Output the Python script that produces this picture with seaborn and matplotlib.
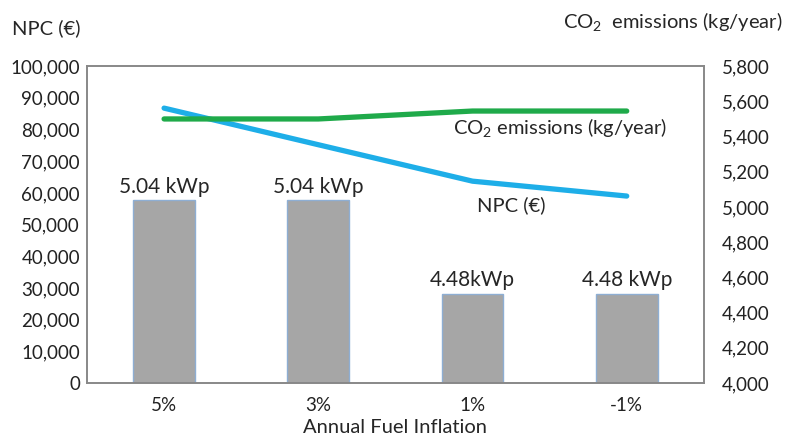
import numpy as np
import pandas as pd
import matplotlib
matplotlib.use("Agg")
import matplotlib.pyplot as plt
import seaborn as sns
from matplotlib.ticker import FuncFormatter

# values
inflation = ["5%", "3%", "1%", "-1%"]
pv_size = [57700, 57700, 28200, 28200]          # bar heights on NPC axis
pv_labels = ["5.04 kWp", "5.04 kWp", "4.48kWp", "4.48 kWp"]
npc = [86750, 75200, 63700, 59000]
co2 = [5500, 5500, 5545, 5545]

df = pd.DataFrame({"inflation": inflation, "bar": pv_size, "npc": npc, "co2": co2})

sns.set_style("white")
plt.rcParams["font.family"] = ["Lato", "DejaVu Sans"]
plt.rcParams["mathtext.fontset"] = "custom"
plt.rcParams["mathtext.rm"] = "Lato"

fig = plt.figure(figsize=(7.98, 4.41), dpi=100)
ax = fig.add_axes([0.109, 0.1315, 0.773, 0.7185])

sns.barplot(data=df, x="inflation", y="bar", ax=ax, color="#a6a6a6",
            width=0.4, edgecolor="#8eaed3", linewidth=1, saturation=1)
sns.lineplot(data=df, x="inflation", y="npc", ax=ax, color="#1eaee8",
             linewidth=3.8, sort=False)

ax2 = ax.twinx()
sns.lineplot(data=df, x="inflation", y="co2", ax=ax2, color="#1faa4a",
             linewidth=3.8, sort=False)

ax.set_ylim(0, 100000)
ax.set_yticks(np.arange(0, 100001, 10000))
ax2.set_ylim(4000, 5800)
ax2.set_yticks(np.arange(4000, 5801, 200))
ax.set_xlim(-0.5, 3.5)

fmt = FuncFormatter(lambda v, p: f"{int(v):,}")
ax.yaxis.set_major_formatter(fmt)
ax2.yaxis.set_major_formatter(fmt)

for a in (ax, ax2):
    a.tick_params(length=0, labelsize=13.5, colors="#222222")
    for s in a.spines.values():
        s.set_color("#888888")
        s.set_linewidth(1.2)
ax.tick_params(axis="y", pad=5)
ax2.tick_params(axis="y", pad=13)
ax.tick_params(axis="x", pad=10)

ax.set_ylabel("")
ax2.set_ylabel("")
ax.set_xlabel("Annual Fuel Inflation", fontsize=14.5, labelpad=4)

for i, (h, lab) in enumerate(zip(pv_size, pv_labels)):
    ax.text(i, h + 1000, lab, ha="center", va="bottom", fontsize=15)

ax.text(3.26, 80400, "CO$_2$ emissions (kg/year)", fontsize=14.5,
        ha="right", va="center")
ax.text(2.25, 56200, "NPC (€)", fontsize=14.5, ha="center", va="center")

fig.text(0.015, 0.937, "NPC (€)", fontsize=14.5, va="center")
fig.text(0.705, 0.95, "CO$_2$  emissions (kg/year)", fontsize=14.5, va="center")

fig.savefig("out.png", dpi=100)
